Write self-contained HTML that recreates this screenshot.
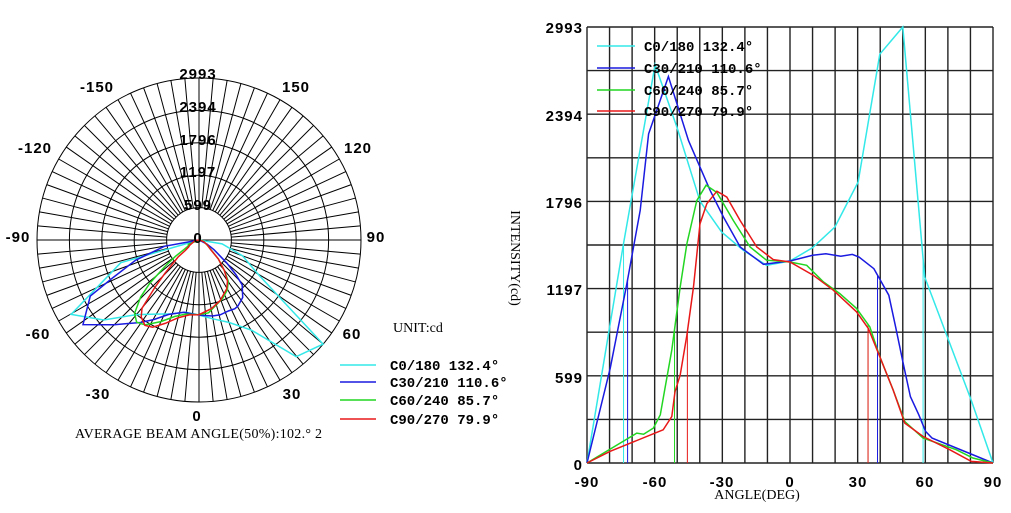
<!DOCTYPE html>
<html><head><meta charset="utf-8"><style>
html,body{margin:0;padding:0;background:#fff;width:1011px;height:513px;overflow:hidden}
svg{display:block}
.t{font-family:"Liberation Sans",sans-serif;font-weight:bold;font-size:15px;letter-spacing:1px;fill:#000}
.m{font-family:"Liberation Mono",monospace;font-weight:bold;font-size:14px;fill:#000}
.s{font-family:"Liberation Serif",serif;font-size:14px;fill:#000}
</style></head><body>
<svg id="c" width="1011" height="513" xmlns="http://www.w3.org/2000/svg">
<g id="pg" stroke="#000" stroke-width="1" fill="none"></g>
<g id="cg" stroke="#222" stroke-width="1.4" fill="none"></g>
<g id="curves" fill="none" stroke-width="1.5"></g>
<g class="t" text-anchor="middle">
<text x="198" y="79">2993</text><text x="198" y="112">2394</text><text x="198" y="145">1796</text>
<text x="198" y="177">1197</text><text x="198" y="210">599</text><text x="198" y="243">0</text>
<text x="97" y="92">-150</text><text x="296" y="92">150</text>
<text x="35" y="153">-120</text><text x="358" y="153">120</text>
<text x="18" y="242">-90</text><text x="376" y="242">90</text>
<text x="38" y="339">-60</text><text x="352" y="339">60</text>
<text x="98" y="399">-30</text><text x="292" y="399">30</text>
<text x="197" y="421">0</text>
</g>
<text class="s" x="393" y="332">UNIT:cd</text>
<text class="s" x="75" y="438" textLength="247">AVERAGE BEAM ANGLE(50%):102.° 2</text>
<g class="m">
<text x="390" y="370">C0/180 132.4°</text><text x="390" y="387">C30/210 110.6°</text>
<text x="390" y="405">C60/240 85.7°</text><text x="390" y="424">C90/270 79.9°</text>
<text x="644" y="51">C0/180 132.4°</text><text x="644" y="73">C30/210 110.6°</text>
<text x="644" y="95">C60/240 85.7°</text><text x="644" y="116">C90/270 79.9°</text>
</g>
<g stroke-width="1.5">
<line x1="340" y1="365" x2="376" y2="365" stroke="#33e8e8"/><line x1="340" y1="382" x2="376" y2="382" stroke="#1a1ae0"/>
<line x1="340" y1="400" x2="376" y2="400" stroke="#22d622"/><line x1="340" y1="419" x2="376" y2="419" stroke="#e81818"/>
<line x1="597" y1="46" x2="635" y2="46" stroke="#33e8e8"/><line x1="597" y1="68" x2="635" y2="68" stroke="#1a1ae0"/>
<line x1="597" y1="90" x2="635" y2="90" stroke="#22d622"/><line x1="597" y1="111" x2="635" y2="111" stroke="#e81818"/>
</g>
<g class="t" text-anchor="end">
<text x="583" y="33">2993</text><text x="583" y="121">2394</text><text x="583" y="208">1796</text>
<text x="583" y="295">1197</text><text x="583" y="383">599</text><text x="583" y="470">0</text>
</g>
<g class="t" text-anchor="middle">
<text x="587" y="487">-90</text><text x="655" y="487">-60</text><text x="722" y="487">-30</text>
<text x="790" y="487">0</text><text x="858" y="487">30</text><text x="925" y="487">60</text><text x="993" y="487">90</text>
</g>
<text class="s" x="757" y="499" text-anchor="middle">ANGLE(DEG)</text>
<text class="s" x="0" y="0" text-anchor="middle" transform="translate(511,258) rotate(90)">INTENSITY(cd)</text>
</svg>
<script>
var NS="http://www.w3.org/2000/svg";
function el(p,n,a){var e=document.createElementNS(NS,n);for(var k in a)e.setAttribute(k,a[k]);p.appendChild(e);return e;}
var pg=document.getElementById('pg'),cg=document.getElementById('cg'),cv=document.getElementById('curves');
var cx=199,cy=240,R=162,S=R/2993;
for(var i=1;i<=5;i++)el(pg,'circle',{cx:cx,cy:cy,r:R*i/5});
for(var a=0;a<360;a+=5){var r0=(a%90==0)?0:R/5;var t=a*Math.PI/180;
el(pg,'line',{x1:cx+r0*Math.sin(t),y1:cy+r0*Math.cos(t),x2:cx+R*Math.sin(t),y2:cy+R*Math.cos(t)});}
function X(a){return 587+(a+90)*406/180}function Y(v){return 463-v*436/2993}
for(var a=-90;a<=90;a+=10)el(cg,'line',{x1:X(a),y1:27,x2:X(a),y2:463});
for(var i=0;i<=10;i++){var y=27+i*43.6;el(cg,'line',{x1:587,y1:y,x2:993,y2:y});}
var D={
"#33e8e8":[[-90,0],[-73.8,1505],[-59.8,2734],[-50,2300],[-39.9,1797],[-30.3,1585],[-20.7,1460],[-10.4,1357],[0,1387],[10,1478],[19.9,1620],[30.2,1928],[39.8,2806],[50,2993],[59.7,1277],[70,855],[80.3,433],[90,0]],
"#1a1ae0":[[-90,0],[-79.7,650],[-72.3,1232],[-66.4,1734],[-62.7,2259],[-53.9,2653],[-45,2213],[-35.4,1870],[-29.5,1688],[-22.1,1483],[-11.8,1364],[0,1387],[10,1426],[15.9,1437],[22.5,1419],[27.6,1432],[30.6,1414],[37.2,1334],[43.8,1152],[46.8,935],[50.5,661],[53.4,456],[57.1,331],[60.1,217],[63,171],[90,0]],
"#22d622":[[-90,0],[-67.9,205],[-64.9,198],[-60.5,240],[-57.5,331],[-55.3,525],[-52.4,776],[-48.7,1209],[-45.7,1506],[-41.3,1802],[-37.2,1907],[-32.4,1857],[-25.1,1664],[-17.7,1483],[-10.4,1392],[0,1380],[7.4,1357],[14.8,1243],[22.1,1163],[29.5,1061],[35.4,935],[39.8,730],[45.7,502],[50.9,285],[59,171],[73.7,91],[81.1,34],[90,0]],
"#e81818":[[-90,0],[-79.7,80],[-59.8,205],[-56.2,228],[-52.4,319],[-51,490],[-48.7,604],[-45.7,878],[-42.8,1209],[-39.9,1643],[-36.9,1780],[-32.4,1866],[-28,1825],[-22.1,1664],[-14.7,1483],[-7.4,1396],[0,1380],[10.3,1289],[19.2,1186],[29.5,1038],[34.7,924],[39.8,730],[45.7,502],[50.9,274],[59,182],[70.8,91],[80.4,11],[90,0]]};
var V={"#33e8e8":[-73.8,59],"#1a1ae0":[-72,38.8],"#22d622":[-51.2,34.6],"#e81818":[-45.5,34.6]};
function interp(d,a){for(var i=1;i<d.length;i++)if(a<=d[i][0]){var p=d[i-1],q=d[i];return p[1]+(q[1]-p[1])*(a-p[0])/(q[0]-p[0]);}return 0;}
for(var c in D){var d=D[c],p="",q="";
d.forEach(function(pt,i){p+=(i?"L":"M")+X(pt[0]).toFixed(1)+","+Y(pt[1]).toFixed(1);
var t=pt[0]*Math.PI/180,r=pt[1]*S;q+=(i?"L":"M")+(cx+r*Math.sin(t)).toFixed(1)+","+(cy+r*Math.cos(t)).toFixed(1);});
el(cv,'path',{d:p,stroke:c});el(cv,'path',{d:q,stroke:c});
V[c].forEach(function(a){el(cv,'line',{x1:X(a),y1:463,x2:X(a),y2:Y(interp(d,a)),stroke:c,'stroke-width':1});});}
</script>
</body></html>
